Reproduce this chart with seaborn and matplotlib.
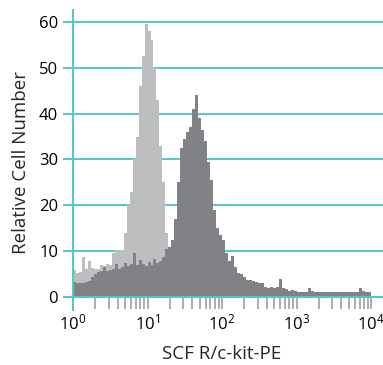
import numpy as np
import pandas as pd
import seaborn as sns
import matplotlib
matplotlib.use("Agg")
import matplotlib.pyplot as plt
from matplotlib.ticker import LogLocator, LogFormatterMathtext, FixedLocator, NullFormatter

# ---- data (channel counts, 100 log-spaced channels from 10^0 to 10^4) ----
log_range = (0.0, 4.0)
n_channels = 100

light_counts = [
    5.8, 5.3, 5.5, 8.8, 6.0, 7.8, 6.3, 6.0, 6.2, 7.0,
    6.8, 7.2, 7.0, 9.5, 10.2, 10.3, 10.2, 14.0, 20.0, 23.0,
    30.0, 35.0, 46.0, 52.5, 59.6, 58.0, 56.0, 50.0, 43.0, 33.0,
    25.0, 14.0, 8.0, 6.0, 5.0, 4.0, 3.5, 3.0, 2.8, 2.5,
    2.2, 2.0, 2.0, 1.8, 1.6, 1.5, 1.4, 1.3, 1.2, 1.1,
    1.0, 1.0, 1.0, 0.9, 0.9, 0.8, 0.8, 0.8, 0.7, 0.7,
    0.7, 0.6, 0.6, 0.6, 0.6, 0.5, 0.5, 0.5, 0.5, 0.5,
    0.5, 0.5, 0.5, 0.5, 0.5, 0.5, 0.5, 0.5, 0.5, 0.5,
    0.5, 0.5, 0.5, 0.5, 0.5, 0.5, 0.5, 0.5, 0.5, 0.5,
    0.5, 0.5, 0.5, 0.5, 0.5, 0.5, 0.5, 0.5, 0.5, 0.5,
]

dark_counts = [
    3.2, 3.0, 3.1, 3.0, 3.2, 3.4, 4.3, 5.0, 5.4, 5.6,
    6.6, 5.6, 5.8, 6.2, 7.3, 6.0, 6.5, 7.5, 6.8, 7.2,
    9.5, 7.0, 8.0, 7.2, 6.8, 7.6, 7.0, 8.2, 7.4, 7.8,
    8.8, 10.5, 11.0, 12.5, 17.0, 25.0, 32.5, 34.5, 36.0, 37.0,
    41.0, 44.0, 39.0, 36.5, 34.0, 29.5, 25.5, 19.0, 15.0, 13.5,
    12.5, 9.5, 7.8, 9.0, 6.5, 5.2, 5.0, 4.4, 3.6, 3.8,
    3.5, 3.3, 3.0, 3.1, 2.2, 2.0, 2.1, 2.0, 2.2, 4.0,
    2.0, 1.8, 1.3, 1.6, 1.2, 1.0, 1.0, 1.0, 1.1, 2.0,
    1.2, 1.0, 1.0, 1.0, 1.0, 1.0, 1.1, 1.0, 1.0, 1.0,
    1.0, 1.0, 1.0, 1.0, 1.0, 1.0, 2.0, 1.3, 1.0, 1.0,
]

y_ticks = [0, 10, 20, 30, 40, 50, 60]
x_major_ticks = [1, 10, 100, 1000, 10000]
x_label = "SCF R/c-kit-PE"
y_label = "Relative Cell Number"

LIGHT = "#BDBEC0"
DARK = "#808285"
TEAL = "#52C8C3"
TICKGRAY = "#9E9E9E"

# ---- style ----
sns.set_style("white")
plt.rcParams["font.family"] = ["Open Sans", "DejaVu Sans"]
plt.rcParams["mathtext.fontset"] = "custom"
plt.rcParams["mathtext.rm"] = "Open Sans"
plt.rcParams["mathtext.it"] = "Open Sans"
plt.rcParams["mathtext.default"] = "regular"

edges_log = np.linspace(log_range[0], log_range[1], n_channels + 1)
centers = 10 ** ((edges_log[:-1] + edges_log[1:]) / 2)
df = pd.DataFrame({"channel": centers, "light": light_counts, "dark": dark_counts})

fig = plt.figure(figsize=(3.83, 3.65), dpi=100)
ax = fig.add_axes([73 / 383, 1 - 310 / 365, 310 / 383, 300 / 365])

sns.histplot(data=df, x="channel", weights="light", bins=n_channels, binrange=log_range,
             log_scale=True, element="step", fill=True, color=LIGHT, alpha=1,
             linewidth=0, ax=ax, zorder=2)
sns.histplot(data=df, x="channel", weights="dark", bins=n_channels, binrange=log_range,
             log_scale=True, element="step", fill=True, color=DARK, alpha=1,
             linewidth=0, ax=ax, zorder=2.1)

ax.set_xlim(1, 10 ** 4.16)
ax.set_ylim(-2.84, 62.6)

# grid
ax.set_axisbelow(True)
ax.yaxis.grid(True, color=TEAL, linewidth=1.4)
ax.xaxis.grid(False)
ax.axhline(0, color=TEAL, linewidth=1.4, zorder=3)

# spines
for s in ["top", "right"]:
    ax.spines[s].set_visible(False)
ax.spines["bottom"].set_position(("data", 0))
ax.spines["bottom"].set_visible(False)
ax.spines["left"].set_color(TEAL)
ax.spines["left"].set_linewidth(1.4)
ax.spines["left"].set_zorder(4)

# ticks
ax.yaxis.set_major_locator(FixedLocator(y_ticks))
ax.tick_params(axis="y", which="major", direction="out", length=7.2, width=1.4,
               color=TEAL, pad=3.5, labelsize=12, labelcolor="black", left=True)
ax.xaxis.set_major_locator(FixedLocator(x_major_ticks))
ax.xaxis.set_major_formatter(LogFormatterMathtext())
ax.xaxis.set_minor_locator(LogLocator(base=10, subs=np.arange(2, 10), numticks=20))
ax.xaxis.set_minor_formatter(NullFormatter())
ax.tick_params(axis="x", which="both", direction="out", length=8.6, width=1.2,
               color=TICKGRAY, bottom=True)
ax.tick_params(axis="x", which="major", pad=3, labelsize=12, labelcolor="black")

ax.set_xlabel(x_label, fontsize=13.5)
ax.set_ylabel(y_label, fontsize=13.5)
ax.xaxis.set_label_coords((222 - 73) / 310, -(345 - 310) / 300)
ax.yaxis.set_label_coords(-(73 - 30) / 310, (310 - 163) / 300)

fig.savefig("out.png", dpi=100)
